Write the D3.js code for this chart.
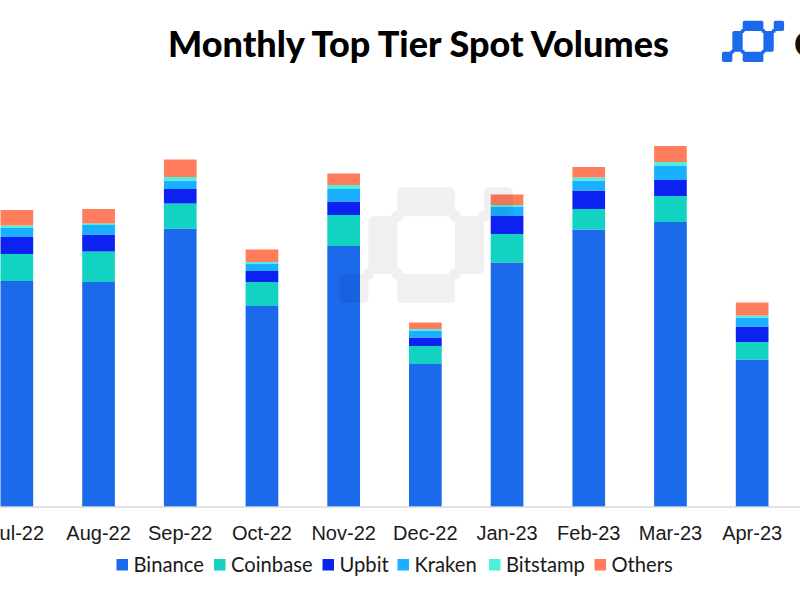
<!DOCTYPE html>
<html lang="en">

<head>
  <meta charset="UTF-8">
  <title>Monthly Top Tier Spot Volumes</title>
  <style>
    html, body {
      margin: 0px;
      background-color: #fff;
      overflow: hidden;
    }

    svg {
      display: block;
      font-family: Lato, sans-serif;
      color: #111;
    }

    .title {
      font-size: 36px;
      font-weight: 900;
      fill: #000;
    }

    .brand {
      font-size: 36px;
      font-weight: 900;
      fill: #111;
    }

    .tick text {
      font-size: 20px;
      fill: #1a1a1a;
    }

    .legend text {
      font-size: 20.2px;
      fill: #1a1a1a;
    }
  </style>
  <script src="https://d3js.org/d3.v7.min.js"></script>
</head>

<body>
  <svg width="800" height="600"></svg>

  <script>
    // monthly volume (approx. $bn)
    const data = [
      { month: "Jul-22", Binance: 452, Coinbase: 54, Upbit: 34, Kraken: 18, Bitstamp: 5, Others: 31 },
      { month: "Aug-22", Binance: 450, Coinbase: 61, Upbit: 34, Kraken: 19, Bitstamp: 3, Others: 29 },
      { month: "Sep-22", Binance: 557, Coinbase: 50, Upbit: 29, Kraken: 17, Bitstamp: 7, Others: 35 },
      { month: "Oct-22", Binance: 402, Coinbase: 48, Upbit: 22, Kraken: 14, Bitstamp: 4, Others: 25 },
      { month: "Nov-22", Binance: 522, Coinbase: 62, Upbit: 27, Kraken: 25, Bitstamp: 8, Others: 23 },
      { month: "Dec-22", Binance: 286, Coinbase: 36, Upbit: 17, Kraken: 14, Bitstamp: 3, Others: 13 },
      { month: "Jan-23", Binance: 489, Coinbase: 57, Upbit: 36, Kraken: 19, Bitstamp: 3, Others: 21 },
      { month: "Feb-23", Binance: 555, Coinbase: 41, Upbit: 37, Kraken: 20, Bitstamp: 6, Others: 21 },
      { month: "Mar-23", Binance: 570, Coinbase: 52, Upbit: 32, Kraken: 28, Bitstamp: 8, Others: 32 },
      { month: "Apr-23", Binance: 295, Coinbase: 35, Upbit: 31, Kraken: 18, Bitstamp: 4, Others: 26 }
    ];

    const exchanges = ["Binance", "Coinbase", "Upbit", "Kraken", "Bitstamp", "Others"];
    const colors = ["#1a6aeb", "#12d3c2", "#0b22f0", "#1ab0ff", "#4ff0d8", "#ff7d5c"];
    const legendX = [116.5, 214, 322.5, 397.5, 489, 594.5];

    const svg = d3.select("svg");
    const color = d3.scaleOrdinal().domain(exchanges).range(colors);

    // the first band runs off the left edge of the picture
    const x = d3.scaleBand()
      .domain(data.map(d => d.month))
      .range([-24, 793])
      .paddingInner(0.6)
      .paddingOuter(0.3);

    const y = d3.scaleLinear().domain([0, 800]).range([507, 107]);

    const stacked = d3.stack().keys(exchanges)(data);

    svg.append("g")
      .selectAll("g")
      .data(stacked)
      .enter().append("g")
      .attr("fill", d => color(d.key))
      .selectAll("rect")
      .data(d => d)
      .enter().append("rect")
      .attr("x", d => x(d.data.month))
      .attr("y", d => y(d[1]))
      .attr("width", x.bandwidth())
      .attr("height", d => y(d[0]) - y(d[1]));

    const xAxis = svg.append("g")
      .attr("transform", "translate(0,507)")
      .call(d3.axisBottom(x).tickSize(0).tickPadding(19));
    xAxis.select(".domain").remove();
    xAxis.append("line")
      .attr("x1", 0)
      .attr("x2", 800)
      .attr("stroke", "#d9d9d9")
      .attr("stroke-width", 1.5);

    // logo blocks on a 6 x 4 grid: col, row, w, h
    const blocks = [[2, 0, 2, 1], [1, 1, 1, 2], [4, 1, 1, 2], [2, 3, 2, 1], [5, 0, 1, 1], [0, 3, 1, 1]];
    // corners where the blocks meet
    const joints = [[2, 1], [4, 1], [2, 3], [4, 3], [5, 1], [1, 3]];

    function drawLogo(left, top, unit, fill, opacity) {
      const g = svg.append("g")
        .attr("fill", fill)
        .attr("opacity", opacity);
      g.selectAll("rect")
        .data(blocks)
        .enter().append("rect")
        .attr("x", d => left + d[0] * unit)
        .attr("y", d => top + d[1] * unit)
        .attr("width", d => d[2] * unit)
        .attr("height", d => d[3] * unit)
        .attr("rx", unit * 0.17);
      g.selectAll("circle")
        .data(joints)
        .enter().append("circle")
        .attr("cx", d => left + d[0] * unit)
        .attr("cy", d => top + d[1] * unit)
        .attr("r", unit * 0.2);
    }

    drawLogo(339.5, 187.3, 28.9, "#000", 0.055);
    drawLogo(722, 20.7, 10.35, "#1a6aeb", 1);

    svg.append("text")
      .attr("class", "title")
      .attr("x", 418.5)
      .attr("y", 57)
      .attr("text-anchor", "middle")
      .text("Monthly Top Tier Spot Volumes");

    svg.append("text")
      .attr("class", "brand")
      .attr("x", 794)
      .attr("y", 57)
      .text("C");

    const legend = svg.append("g")
      .attr("class", "legend")
      .selectAll("g")
      .data(exchanges)
      .enter().append("g")
      .attr("transform", (d, i) => `translate(${legendX[i]},559)`);

    legend.append("rect")
      .attr("width", 11.5)
      .attr("height", 11.5)
      .attr("fill", d => color(d));

    legend.append("text")
      .attr("x", 17)
      .attr("y", 12.5)
      .text(d => d);
  </script>
</body>

</html>
